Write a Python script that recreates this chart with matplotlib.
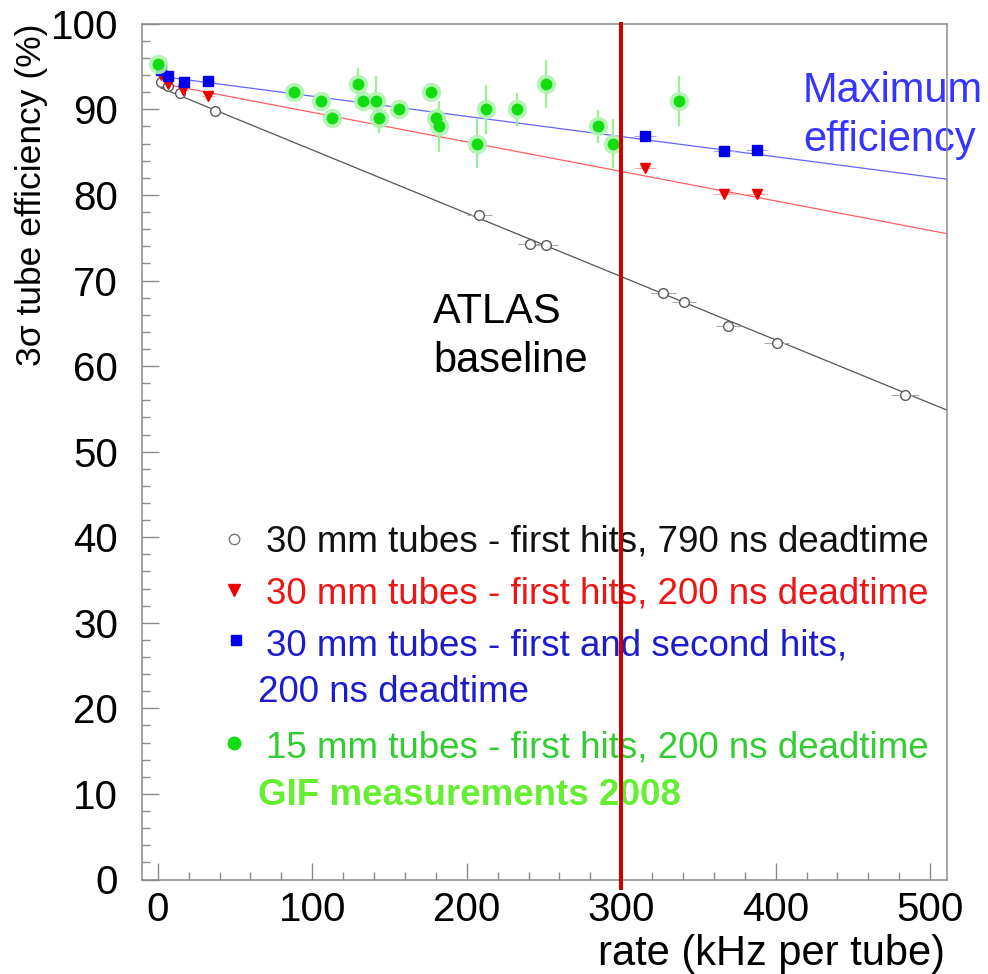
import numpy as np
import matplotlib
matplotlib.use("Agg")
import matplotlib.pyplot as plt
from matplotlib import font_manager

# 30 mm tubes, first hits, 790 ns deadtime
black_x = [1.9, 6.9, 14.4, 37.1, 208.2, 241.0, 251.3, 327.3, 340.6, 369.3, 400.6, 483.7]
black_y = [93.2, 92.7, 91.9, 89.8, 77.7, 74.3, 74.2, 68.5, 67.5, 64.7, 62.7, 56.6]
black_xerr = [1, 2, 3, 4, 8, 8, 8, 8, 8, 8, 8, 9]

# 30 mm tubes, first hits, 200 ns deadtime
red_x = [1.9, 6.5, 16.6, 32.8, 315.4, 366.7, 387.7]
red_y = [94.0, 93.0, 92.3, 91.6, 83.2, 80.1, 80.1]
red_xerr = [1, 2, 3, 4, 7, 7, 7]

# 30 mm tubes, first and second hits, 200 ns deadtime
blue_x = [1.9, 6.9, 17.0, 32.8, 315.4, 366.7, 387.7]
blue_y = [94.6, 93.9, 93.2, 93.3, 86.9, 85.1, 85.3]
blue_xerr = [1, 2, 3, 4, 7, 7, 7]

# 15 mm tubes, GIF 2008
green_x = [0.0, 88.4, 105.6, 112.6, 129.4, 133.1, 141.1, 143.4, 156.3, 177.1,
           180.1, 182.2, 206.5, 212.5, 232.3, 251.1, 285.1, 294.8, 337.4]
green_y = [95.3, 92, 91, 89, 93, 91, 91, 89, 90, 92,
           89, 88, 86, 90, 90, 93, 88, 86, 91]
green_yerr = [0.3, 0.5, 0.5, 0.5, 1.8, 0.5, 2.9, 1.8, 0.5, 0.5,
              0.5, 3.0, 2.9, 2.9, 1.9, 2.8, 1.9, 2.9, 2.9]

# straight-line fits: (intercept, slope)
fit_black = (92.66, -0.0740)
fit_red = (93.1, -0.0345)
fit_blue = (93.9, -0.0236)
fit_range = [2, 511]

baseline_rate = 300

names = {f.name for f in font_manager.fontManager.ttflist}
narrow = "Liberation Sans Narrow" if "Liberation Sans Narrow" in names else None
plt.rcParams["font.family"] = ["Liberation Sans", "DejaVu Sans"]

W, H = 988, 974
fig = plt.figure(figsize=(W / 100, H / 100), dpi=100)
ax = fig.add_axes([141.7 / W, 1 - 879.5 / H, 805 / W, 855.7 / H])
ax.set_xlim(-10.4, 510.7)
ax.set_ylim(0, 100)

def fx(px):
    return px / W

def fy(py):
    return 1 - py / H

# fit lines
xs = np.array(fit_range, dtype=float)
ax.plot(xs, fit_black[0] + fit_black[1] * xs, color="#555555", lw=0.9, zorder=2)
ax.plot(xs, fit_red[0] + fit_red[1] * xs, color="#ff6060", lw=0.9, zorder=2)
ax.plot(xs, fit_blue[0] + fit_blue[1] * xs, color="#6464ff", lw=0.9, zorder=2)

# data points
ax.errorbar(black_x, black_y, xerr=black_xerr, fmt="o", ms=7, mfc="white",
            mec="#5a5a5a", mew=1.0, ecolor="#aaaaaa", elinewidth=0.8, capsize=0, zorder=3)
ax.errorbar(red_x, red_y, xerr=red_xerr, fmt="v", ms=7.5, color="#ee0000",
            ecolor="#ffaaaa", elinewidth=0.8, capsize=0, zorder=3)
ax.errorbar(blue_x, blue_y, xerr=blue_xerr, fmt="s", ms=7, color="#0000ee",
            ecolor="#aaaaff", elinewidth=0.8, capsize=0, zorder=3)
ax.errorbar(green_x, green_y, yerr=green_yerr, fmt="none", ecolor="#99ee99",
            elinewidth=1.6, capsize=0, zorder=3)
ax.plot(green_x, green_y, "o", ms=14, color="#b0f3b0", alpha=0.9, mec="none", zorder=4)
ax.plot(green_x, green_y, "o", ms=8.5, color="#11dd11", mec="none", zorder=5)

# baseline rate marker
ax.axvline(baseline_rate, ymin=-0.01, ymax=1, color="#cc0000", lw=2.9,
           clip_on=False, zorder=10)

# frame and ticks
for sp in ax.spines.values():
    sp.set_color("#8a8a8a")
    sp.set_linewidth(1.1)
ax.set_xticks(np.arange(0, 501, 100))
ax.set_xticks(np.arange(0, 511, 20), minor=True)
ax.set_yticks(np.arange(0, 101, 10))
ax.set_yticks(np.arange(0, 101, 2), minor=True)
ax.tick_params(which="both", direction="in", color="#8a8a8a", width=1.0,
               top=False, right=False, labelsize=29)
ax.tick_params(which="major", length=12)
ax.tick_params(which="minor", length=5.8)
ax.tick_params(axis="y", pad=17)
ax.tick_params(axis="x", pad=8)

if narrow:
    fig.text(fx(32), fy(24), "3σ tube efficiency (%)", rotation=90, ha="center",
             va="top", fontsize=30, family=[narrow, "DejaVu Sans"])
else:
    fig.text(fx(32), fy(24), "3σ tube efficiency (%)", rotation=90, ha="center",
             va="top", fontsize=25.5)
fig.text(fx(945), fy(965), "rate (kHz per tube)", ha="right", va="baseline", fontsize=30)

# annotations
ax.text(fx(433), fy(323), "ATLAS", transform=fig.transFigure, fontsize=30,
        va="baseline", zorder=1)
ax.text(fx(433), fy(372), "baseline", transform=fig.transFigure, fontsize=30,
        va="baseline", zorder=1)
ax.text(fx(803), fy(102), "Maximum", transform=fig.transFigure, fontsize=30,
        color="#3535ff", va="baseline", zorder=1)
ax.text(fx(803), fy(151), "efficiency", transform=fig.transFigure, fontsize=30,
        color="#3535ff", va="baseline", zorder=1)

# legend
leg = [
    ("30 mm tubes - first hits, 790 ns deadtime", "#111111", 266, 552),
    ("30 mm tubes - first hits, 200 ns deadtime", "#ee1515", 266, 604),
    ("30 mm tubes - first and second hits,", "#1c1ccc", 266, 655),
    ("200 ns deadtime", "#1c1ccc", 258, 702),
    ("15 mm tubes - first hits, 200 ns deadtime", "#33cc33", 266, 757),
]
for s, c, px, py in leg:
    ax.text(fx(px), fy(py), s, transform=fig.transFigure, fontsize=26.5,
            color=c, va="baseline", zorder=1)
ax.text(fx(258), fy(805), "GIF measurements 2008", transform=fig.transFigure,
        fontsize=26.5, fontweight="bold", color="#66ee33", va="baseline", zorder=1)

tf = fig.transFigure
ax.plot([fx(234)], [fy(539)], "o", ms=7.5, mfc="white", mec="#777777", mew=1.0,
        transform=tf, clip_on=False)
ax.plot([fx(234)], [fy(590)], "v", ms=8, color="#ee0000", transform=tf, clip_on=False)
ax.plot([fx(236)], [fy(640)], "s", ms=7, color="#0000ee", transform=tf, clip_on=False)
ax.plot([fx(234)], [fy(743)], "o", ms=9, color="#11dd11", transform=tf, clip_on=False)

fig.savefig("out.png", dpi=100)
